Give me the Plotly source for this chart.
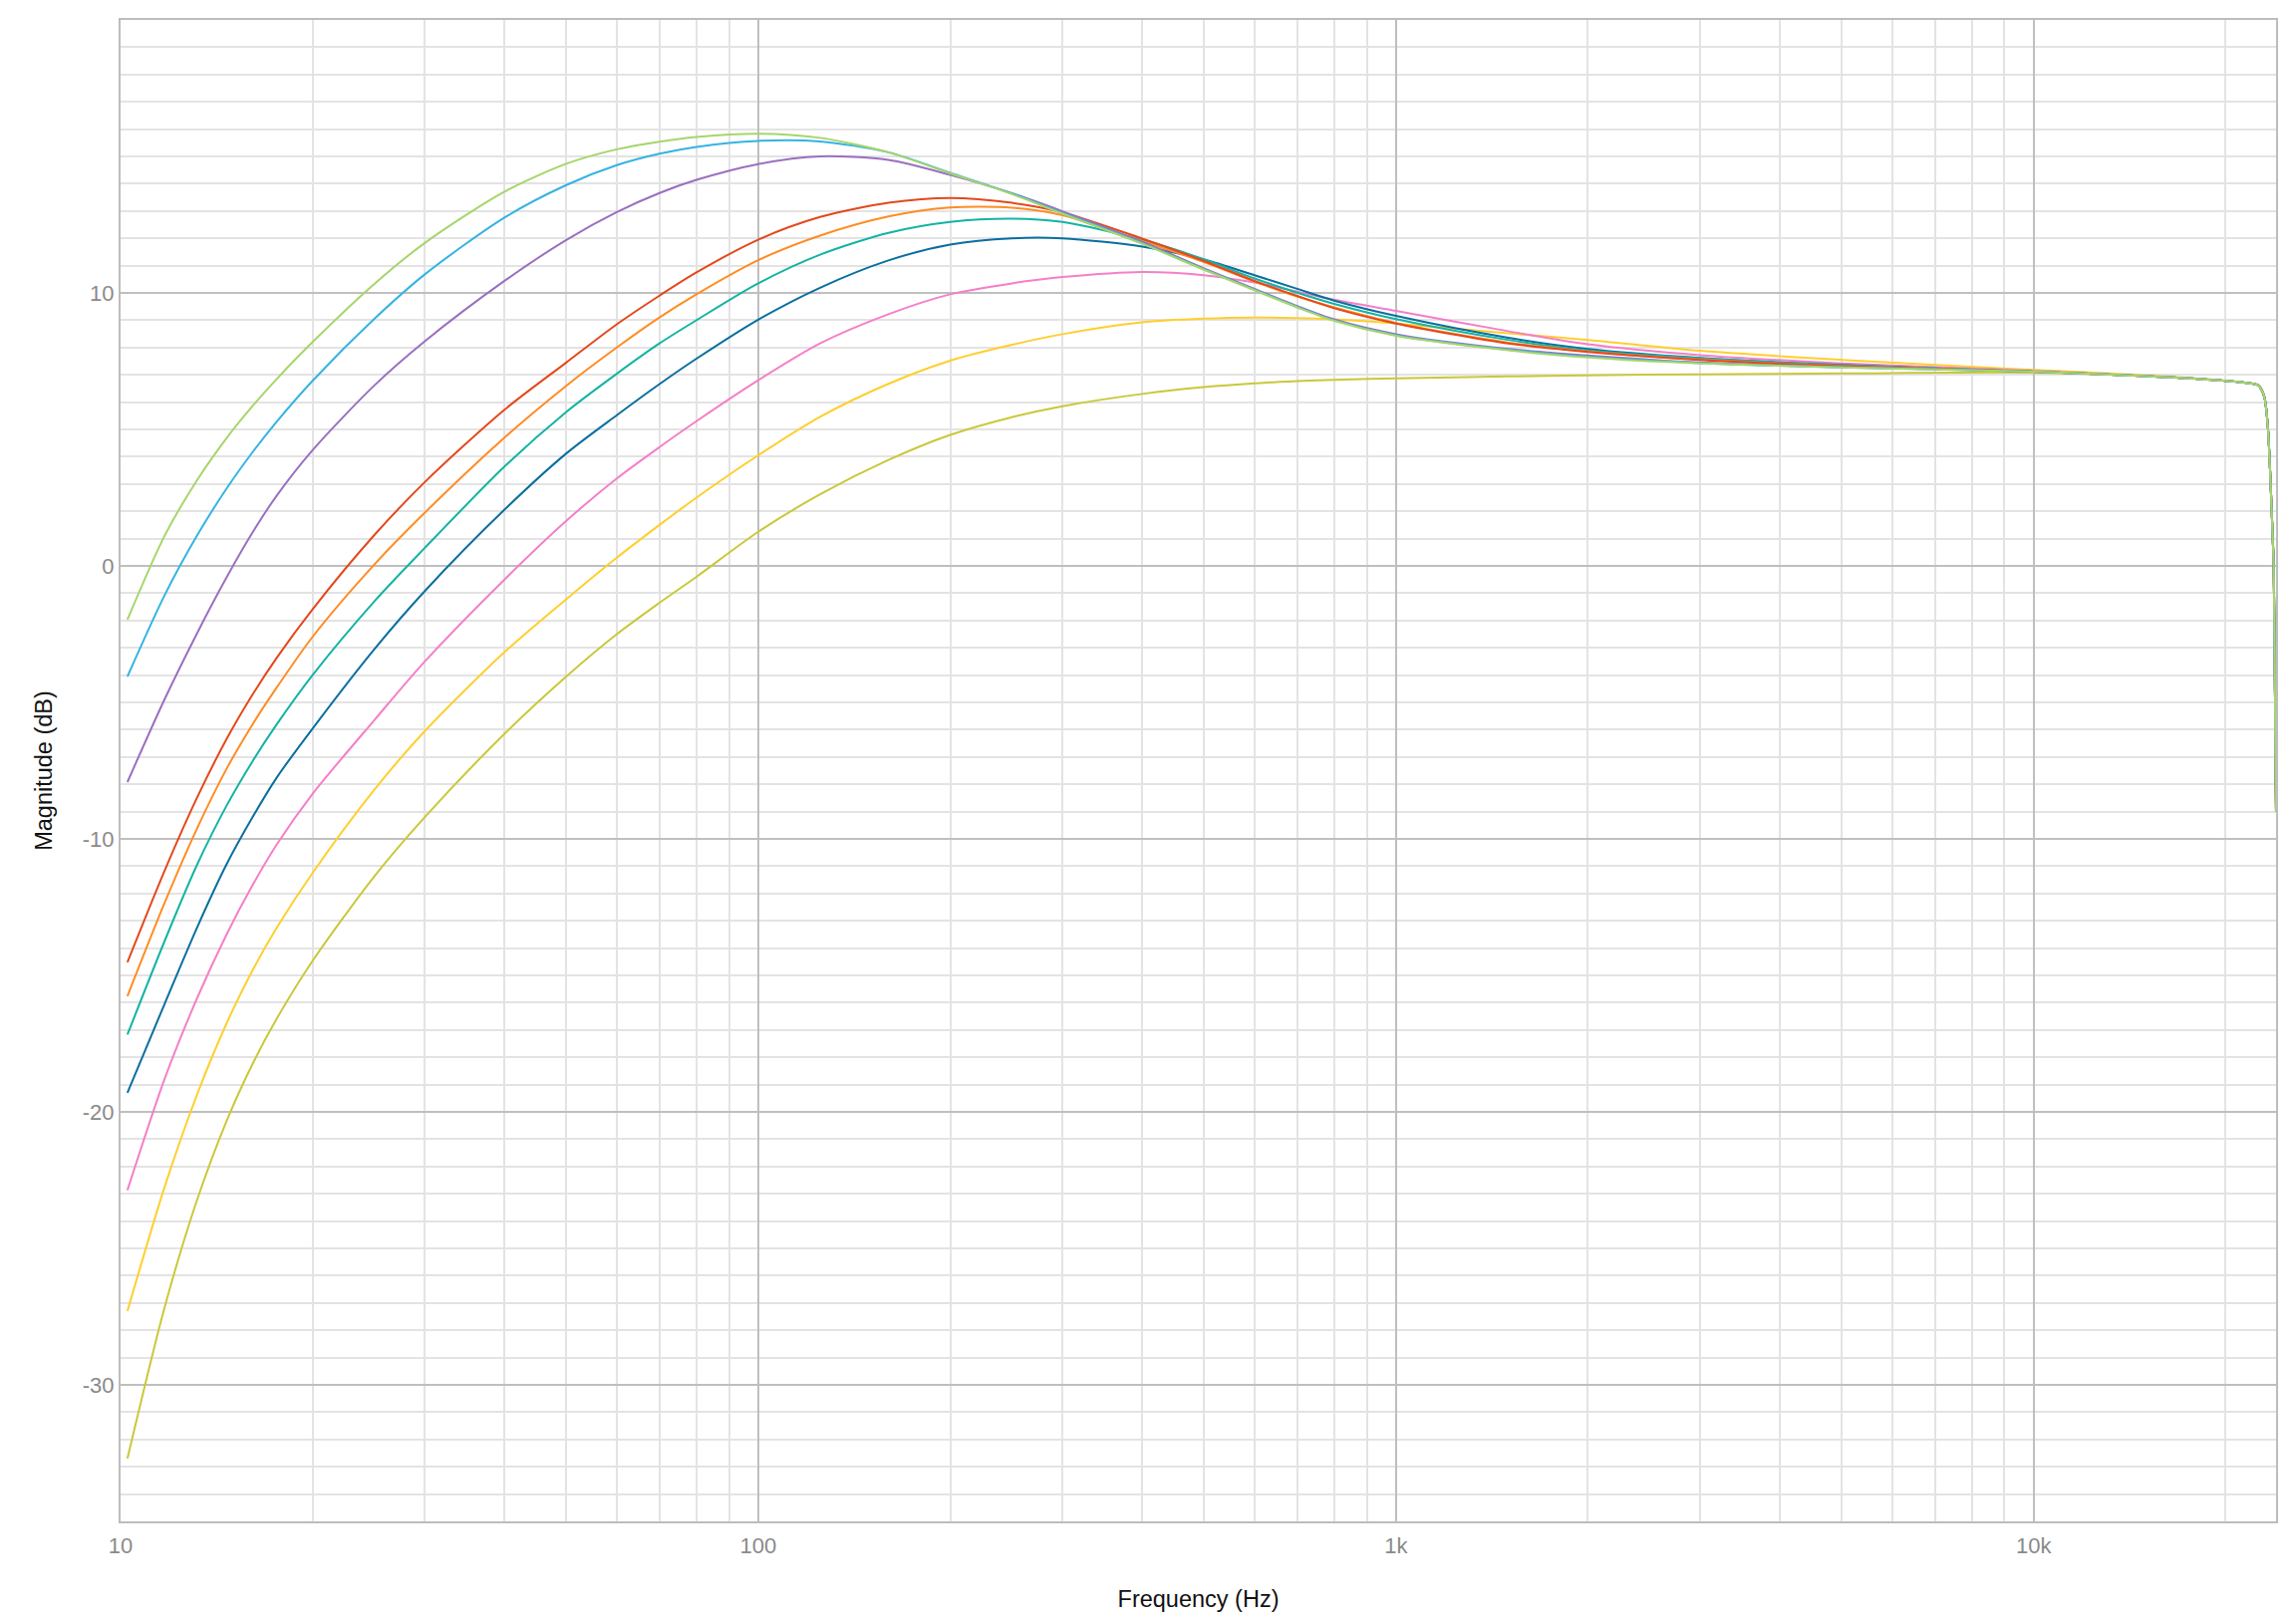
import math
import plotly.graph_objects as go

freq = [10.25, 11.72, 13.18, 14.65, 16.11, 17.58, 20, 25, 30, 40, 50, 60, 70, 80,
        100, 125, 160, 200, 250, 300, 400, 500, 600, 700, 800, 1000, 1500, 2000,
        3000, 5000, 10000, 15000, 20000, 22000, 22500, 23000, 23300, 23500, 23700,
        23800, 23900, 24000]

# Magnitude (dB) per curve
green = [-1.97, 1.1, 3.14, 4.67, 5.86, 6.85, 8.2, 10.33, 11.83, 13.71, 14.73, 15.26, 15.54, 15.71,
         15.83, 15.68, 15.15, 14.38, 13.62, 12.9, 11.8, 10.85, 10.1, 9.47, 8.98, 8.43, 7.9, 7.64,
         7.42, 7.27, 7.12, 6.95, 6.78, 6.68, 6.62, 6.2, 5.1, 3.4, 1.2, 0.0, -4.2, -9.0]
light_blue = [-4.05, -1.08, 1.11, 2.82, 4.17, 5.29, 6.78, 9.05, 10.68, 12.76, 13.95, 14.68, 15.1, 15.35,
              15.57, 15.55, 15.15, 14.4, 13.64, 12.93, 11.82, 10.87, 10.12, 9.49, 9.0, 8.45, 7.92, 7.66,
              7.43, 7.27, 7.12, 6.95, 6.78, 6.68, 6.62, 6.2, 5.1, 3.4, 1.2, 0.0, -4.2, -9.0]
purple = [-7.92, -4.89, -2.47, -0.44, 1.23, 2.58, 4.24, 6.61, 8.23, 10.44, 11.94, 12.96, 13.66, 14.14,
          14.72, 15.0, 14.87, 14.32, 13.65, 12.99, 11.87, 10.9, 10.15, 9.52, 9.03, 8.49, 7.95, 7.71,
          7.45, 7.28, 7.12, 6.95, 6.78, 6.68, 6.62, 6.2, 5.1, 3.4, 1.2, 0.0, -4.2, -9.0]
red = [-14.52, -11.17, -8.49, -6.36, -4.71, -3.36, -1.59, 1.13, 3.07, 5.72, 7.45, 8.85, 9.9, 10.75,
       11.95, 12.78, 13.3, 13.48, 13.3, 12.95, 11.99, 11.17, 10.44, 9.89, 9.44, 8.88, 8.15, 7.84,
       7.55, 7.32, 7.12, 6.95, 6.78, 6.68, 6.62, 6.2, 5.1, 3.4, 1.2, 0.0, -4.2, -9.0]
orange = [-15.76, -12.35, -9.62, -7.45, -5.8, -4.45, -2.6, 0.05, 1.95, 4.7, 6.6, 8.0, 9.1, 9.95,
          11.2, 12.1, 12.8, 13.13, 13.12, 12.85, 11.9, 11.13, 10.42, 9.87, 9.47, 8.9, 8.18, 7.86,
          7.56, 7.33, 7.12, 6.95, 6.78, 6.68, 6.62, 6.2, 5.1, 3.4, 1.2, 0.0, -4.2, -9.0]
teal = [-17.17, -13.75, -10.95, -8.8, -7.15, -5.8, -4.0, -1.3, 0.66, 3.64, 5.64, 7.04, 8.15, 9.0,
        10.35, 11.4, 12.2, 12.6, 12.72, 12.6, 11.95, 11.23, 10.53, 10.01, 9.6, 9.04, 8.28, 7.89,
        7.6, 7.35, 7.12, 6.95, 6.78, 6.68, 6.62, 6.2, 5.1, 3.4, 1.2, 0.0, -4.2, -9.0]
dark_blue = [-19.3, -16.05, -13.25, -10.95, -9.2, -7.75, -5.96, -3.05, -0.92, 2.06, 4.12, 5.52, 6.66, 7.59,
             9.02, 10.19, 11.19, 11.77, 12.0, 12.0, 11.7, 11.22, 10.65, 10.15, 9.72, 9.16, 8.36, 7.95,
             7.62, 7.36, 7.12, 6.95, 6.78, 6.68, 6.62, 6.2, 5.1, 3.4, 1.2, 0.0, -4.2, -9.0]
pink = [-22.87, -18.8, -15.84, -13.52, -11.69, -10.2, -8.35, -5.65, -3.5, -0.5, 1.65, 3.2, 4.35, 5.3,
        6.8, 8.15, 9.22, 9.95, 10.35, 10.58, 10.77, 10.65, 10.38, 10.05, 9.75, 9.34, 8.6, 8.12,
        7.72, 7.42, 7.14, 6.96, 6.78, 6.68, 6.62, 6.2, 5.1, 3.4, 1.2, 0.0, -4.2, -9.0]
yellow = [-27.3, -22.76, -19.37, -16.78, -14.81, -13.25, -11.25, -8.2, -6.05, -3.16, -1.22, 0.3, 1.5, 2.5,
          4.05, 5.46, 6.67, 7.52, 8.1, 8.49, 8.92, 9.06, 9.1, 9.08, 9.03, 8.88, 8.52, 8.28,
          7.88, 7.55, 7.18, 6.98, 6.79, 6.68, 6.62, 6.2, 5.1, 3.4, 1.2, 0.0, -4.2, -9.0]
olive = [-32.7, -27.17, -23.23, -20.36, -18.24, -16.58, -14.47, -11.37, -9.2, -6.15, -4.05, -2.5, -1.35, -0.4,
         1.25, 2.62, 3.88, 4.8, 5.45, 5.85, 6.3, 6.55, 6.69, 6.77, 6.82, 6.87, 6.94, 6.98,
         7.02, 7.05, 7.08, 6.95, 6.78, 6.68, 6.62, 6.2, 5.1, 3.4, 1.2, 0.0, -4.2, -9.0]

series = [
    ("olive", olive, "#c9c83a"),
    ("yellow", yellow, "#fecf2e"),
    ("pink", pink, "#f47fc8"),
    ("dark_blue", dark_blue, "#0a6ea0"),
    ("teal", teal, "#14b3a3"),
    ("orange", orange, "#ff8c23"),
    ("red", red, "#e4481c"),
    ("purple", purple, "#9a6fc0"),
    ("light_blue", light_blue, "#35b3e3"),
    ("green", green, "#a6d56b"),
]

x_tick_vals = [10, 100, 1000, 10000]
x_tick_text = ["10", "100", "1k", "10k"]
x_minor_vals = [m * d for d in (10, 100, 1000) for m in range(2, 10)] + [20000]
y_tick_vals = [-30, -20, -10, 0, 10]
y_tick_text = ["-30", "-20", "-10", "0", "10"]

fig = go.Figure()
for name, vals, color in series:
    fig.add_trace(go.Scatter(x=freq, y=vals, mode="lines", name=name,
                             line=dict(color=color, width=2, shape="spline", smoothing=0.8)))

# the page body has an 8px margin, so the figure is sized to fit inside the window
W, H = 2296, 1616
L, R, T, B = 113, 20, 10, 97

font_family = "Helvetica Neue, Liberation Sans, Arial, sans-serif"

fig.update_layout(
    width=W, height=H,
    margin=dict(l=L, r=R, t=T, b=B),
    paper_bgcolor="white", plot_bgcolor="white",
    showlegend=False,
    font=dict(family=font_family),
    xaxis=dict(
        type="log", range=[1, math.log10(24000)],
        tickmode="array", tickvals=x_tick_vals, ticktext=x_tick_text,
        showgrid=True, gridcolor="#bfbfbf", gridwidth=2,
        minor=dict(tickmode="array", tickvals=x_minor_vals, showgrid=True,
                   gridcolor="#e3e3e3", gridwidth=1.5),
        showline=True, mirror=True, linecolor="#bdbdbd", linewidth=2,
        zeroline=False, ticks="", ticklabelstandoff=4,
        tickfont=dict(size=22, color="#8a8a8a", family=font_family),
        title=dict(text="Frequency (Hz)", font=dict(size=23.5, color="#111111", family=font_family),
                   standoff=33),
    ),
    yaxis=dict(
        range=[-35, 20],
        tickmode="array", tickvals=y_tick_vals, ticktext=y_tick_text,
        showgrid=True, gridcolor="#bfbfbf", gridwidth=2,
        minor=dict(dtick=1, tick0=0, showgrid=True, gridcolor="#e3e3e3", gridwidth=1.5),
        showline=True, mirror=True, linecolor="#bdbdbd", linewidth=2,
        zeroline=False, ticks="",
        tickfont=dict(size=22, color="#8a8a8a", family=font_family),
        title=dict(text="Magnitude (dB)", font=dict(size=23.5, color="#111111", family=font_family),
                   standoff=24),
    ),
)

fig.write_html("out.html")
